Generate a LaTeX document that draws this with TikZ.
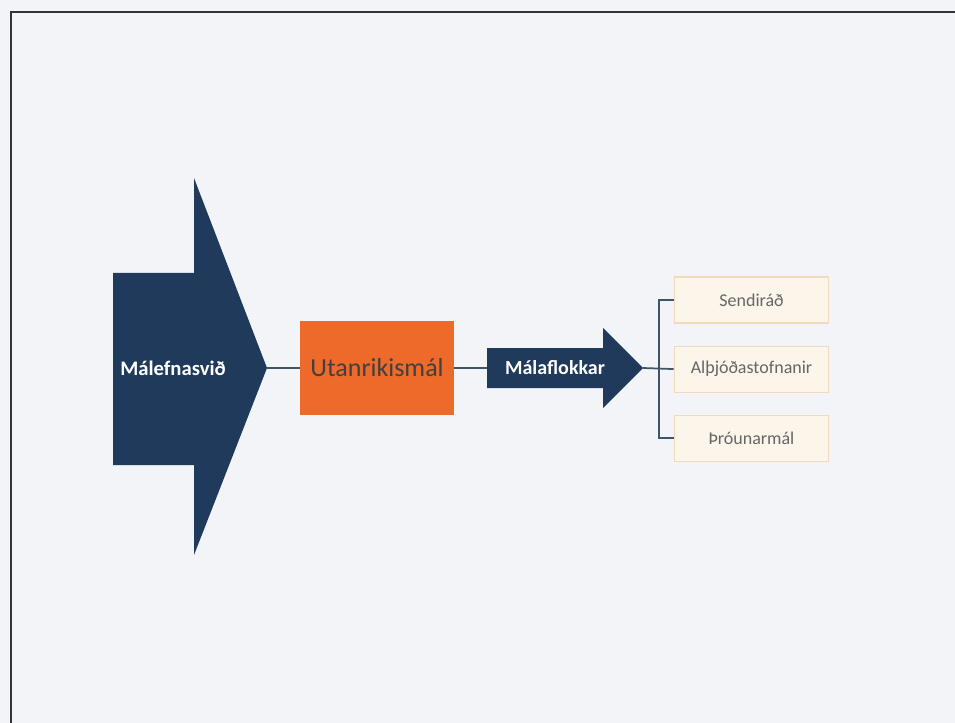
\documentclass[tikz,border=0pt]{standalone}
\usepackage{fontspec}
\setmainfont{Carlito}
\usetikzlibrary{positioning,calc}

\definecolor{bakgrunnur}{HTML}{F3F4F8}
\definecolor{navy}{HTML}{1F3A5B}
\definecolor{appelsina}{HTML}{EE6A2A}
\definecolor{krem}{HTML}{FBF5EA}
\definecolor{kremlina}{HTML}{F3D9BC}
\definecolor{tengilitur}{HTML}{3E5568}

\begin{document}
\begin{tikzpicture}[x=0.75pt,y=-0.75pt,
    rammi/.style={draw=black!80,line width=1.5pt},
    tengi/.style={draw=tengilitur,line width=1.3pt},
    hvitletur/.style={text=white,font=\bfseries\fontsize{15.5}{18}\selectfont},
    kassi/.style={fill=appelsina,minimum width=115.5pt,minimum height=71pt,inner sep=0pt,
      text=black!75,font=\fontsize{19.5}{22}\selectfont},
    undirkassi/.style={fill=krem,draw=kremlina,line width=0.8pt,minimum width=116pt,minimum height=34.5pt,
      inner sep=0pt,text=black!60,font=\fontsize{13.5}{16}\selectfont}]
  \useasboundingbox (0,0) rectangle (955,723);
  \fill[bakgrunnur] (0,0) rectangle (955,723);

  % rammi
  \draw[rammi] (11,723) -- (11,12) -- (955,12);

  % stóra örin
  \fill[navy] (113,273) -- (194,273) -- (194,178) -- (267,368) -- (194,555)
    -- (194,465) -- (113,465) -- cycle;
  \coordinate (svidodd) at (267,368);
  \node[hvitletur] (svid) at (173,368) {Málefnasvið};

  % málefnasvið
  \node[kassi] (utan) at (377,368) {Utanrikismál};

  % litla örin
  \fill[navy] (487,348) -- (603,348) -- (603,328) -- (643,368) -- (603,408)
    -- (603,388) -- (487,388) -- cycle;
  \coordinate (flokkbak) at (487,368);
  \coordinate (flokkodd) at (643,368);
  \node[hvitletur,font=\bfseries\fontsize{15}{18}\selectfont] (flokkar) at (555,368) {Málaflokkar};

  % málaflokkar
  \node[undirkassi] (sendi) at (751.5,300) {Sendiráð};
  \node[undirkassi,below=16.5pt of sendi] (althjod) {Alþjóðastofnanir};
  \node[undirkassi,below=16.5pt of althjod] (throun) {Þróunarmál};

  % tengingar
  \draw[tengi] (svidodd) -- (utan.west);
  \draw[tengi] (utan.east) -- (flokkbak);
  \draw[tengi] (flokkodd) -- (althjod.west);
  \draw[tengi] (sendi.west) -- ++(-15,0) |- (throun.west);
\end{tikzpicture}
\end{document}
